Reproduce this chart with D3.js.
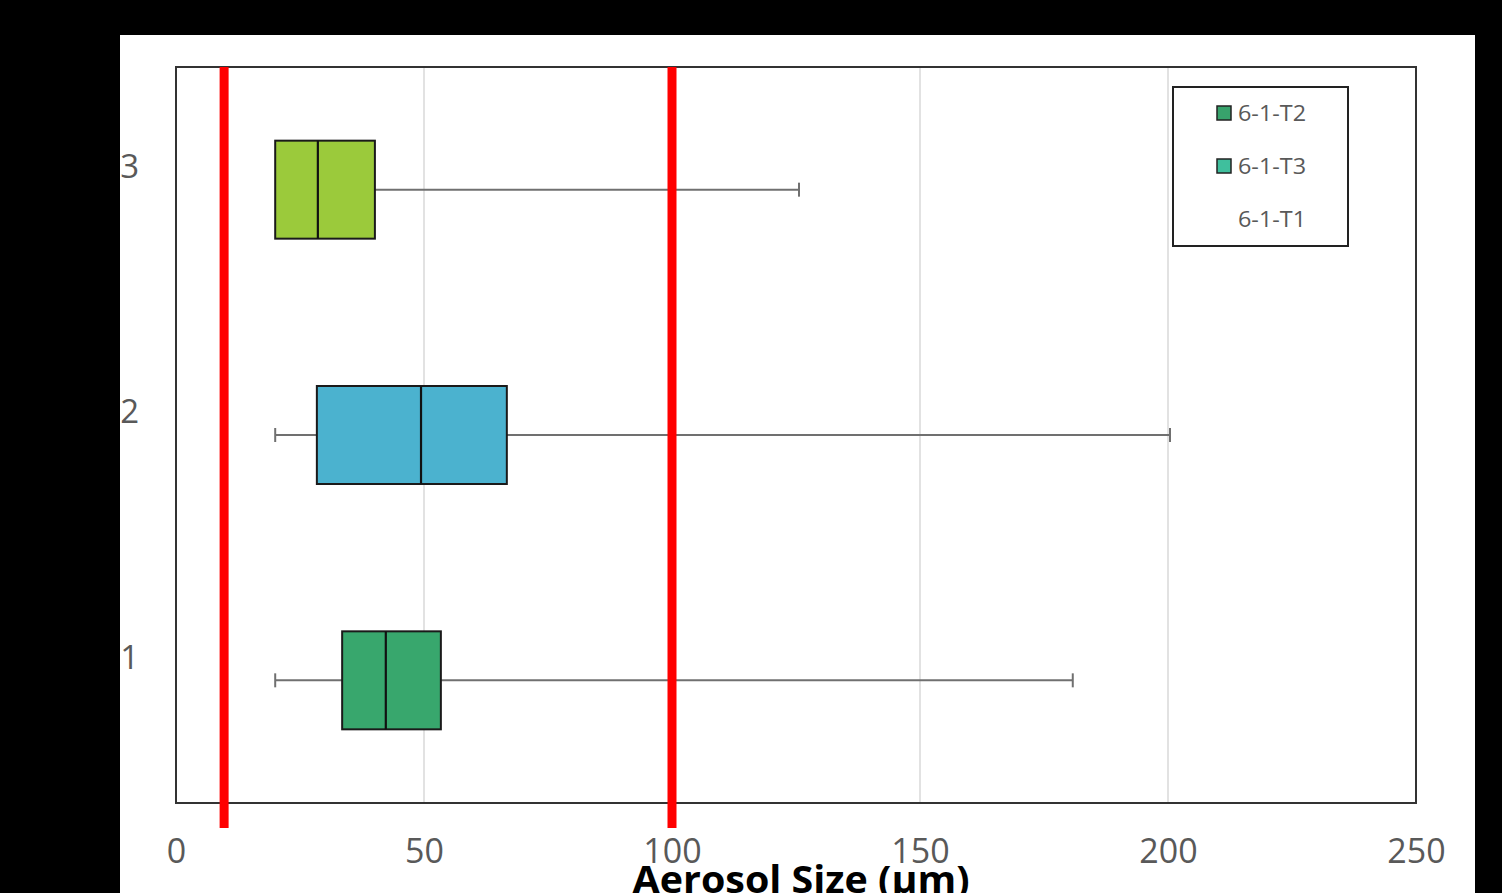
<!DOCTYPE html>
<html>
<head>
<meta charset="utf-8">
<script src="https://cdn.jsdelivr.net/npm/d3@7"></script>
<style>
  html, body { margin: 0; padding: 0; background: #000; }
  svg { display: block; }
</style>
</head>
<body>
<svg id="chart" width="1502" height="893"></svg>
<script>
// ---- data ----
const categories = ["1", "2", "3"];
const mins    = [20.0, 20.0, 20.0];
const q1s     = [33.5, 28.4, 20.0];
const medians = [42.3, 49.4, 28.6];
const q3s     = [53.4, 66.7, 40.1];
const maxs    = [180.8, 200.4, 125.6];
const boxColors = ["#38a76d", "#4bb2cf", "#9bca3b"];
const xTicks = [0, 50, 100, 150, 200, 250];
const refLines = [9.7, 100];
const legendLabels = ["6-1-T2", "6-1-T3", "6-1-T1"];
const legendColors = ["#38a36c", "#3fbf9d", null];
const xTitle = "Aerosol Size (μm)";

// ---- layout ----
const svg = d3.select("#chart");
const panel = {x: 120, y: 35, w: 1355, h: 858};
const plot = {l: 176, r: 1416, t: 67, b: 803};

svg.append("defs").append("clipPath").attr("id", "pclip")
  .append("rect").attr("x", panel.x).attr("y", panel.y).attr("width", panel.w).attr("height", panel.h);

const g = svg.append("g").attr("clip-path", "url(#pclip)");
g.append("rect").attr("x", panel.x).attr("y", panel.y).attr("width", panel.w).attr("height", panel.h).attr("fill", "#fff");

const x = d3.scaleLinear().domain([0, 250]).range([plot.l, plot.r]);
const y = d3.scalePoint().domain(["3", "2", "1"]).range([plot.t, plot.b]).padding(0.5);
const boxH = 98;

// gridlines
g.append("g").selectAll("line").data(xTicks.filter(d => d > 0 && d < 250)).join("line")
  .attr("x1", d => x(d)).attr("x2", d => x(d))
  .attr("y1", plot.t).attr("y2", plot.b)
  .attr("stroke", "#d9d9d9").attr("stroke-width", 1.5);

// x axis labels via d3 axis
const xAxis = d3.axisBottom(x).tickValues(xTicks).tickSize(0).tickPadding(0).tickFormat(d3.format("d"));
const xa = g.append("g").attr("transform", `translate(0,${plot.b + 36})`).call(xAxis);
xa.select(".domain").remove();
xa.selectAll("text").attr("fill", "#595959").attr("font-family", "Open Sans, sans-serif")
  .attr("font-size", 34).attr("dy", "0.72em").attr("y", 0);

// y labels
const yAxis = d3.axisLeft(y).tickSize(0).tickPadding(0);
const ya = g.append("g").attr("transform", `translate(139,-24)`).call(yAxis);
ya.select(".domain").remove();
ya.selectAll("text").attr("fill", "#595959").attr("font-family", "Open Sans, sans-serif")
  .attr("font-size", 33).attr("dy", "0.36em");

// boxes
const rows = categories.map((c, i) => ({c, min: mins[i], q1: q1s[i], med: medians[i], q3: q3s[i], max: maxs[i], color: boxColors[i]}));
const bg = g.append("g").selectAll("g").data(rows).join("g");
// whisker lines
bg.append("line").attr("x1", d => x(d.min)).attr("x2", d => x(d.q1))
  .attr("y1", d => y(d.c)).attr("y2", d => y(d.c)).attr("stroke", "#707070").attr("stroke-width", 2);
bg.append("line").attr("x1", d => x(d.q3)).attr("x2", d => x(d.max))
  .attr("y1", d => y(d.c)).attr("y2", d => y(d.c)).attr("stroke", "#707070").attr("stroke-width", 2);
// caps
bg.filter(d => d.min < d.q1).append("line").attr("x1", d => x(d.min)).attr("x2", d => x(d.min))
  .attr("y1", d => y(d.c) - 7).attr("y2", d => y(d.c) + 7).attr("stroke", "#707070").attr("stroke-width", 2);
bg.append("line").attr("x1", d => x(d.max)).attr("x2", d => x(d.max))
  .attr("y1", d => y(d.c) - 7).attr("y2", d => y(d.c) + 7).attr("stroke", "#707070").attr("stroke-width", 2);
// box
bg.append("rect").attr("x", d => x(d.q1)).attr("width", d => x(d.q3) - x(d.q1))
  .attr("y", d => y(d.c) - boxH / 2).attr("height", boxH)
  .attr("fill", d => d.color).attr("stroke", "#1a1a1a").attr("stroke-width", 2);
bg.append("line").attr("x1", d => x(d.med)).attr("x2", d => x(d.med))
  .attr("y1", d => y(d.c) - boxH / 2).attr("y2", d => y(d.c) + boxH / 2)
  .attr("stroke", "#111").attr("stroke-width", 2.2);

// plot border
g.append("rect").attr("x", plot.l).attr("y", plot.t).attr("width", plot.r - plot.l).attr("height", plot.b - plot.t)
  .attr("fill", "none").attr("stroke", "#333").attr("stroke-width", 2);

// reference red lines
g.append("g").selectAll("line").data(refLines).join("line")
  .attr("x1", d => x(d)).attr("x2", d => x(d))
  .attr("y1", plot.t).attr("y2", 828)
  .attr("stroke", "#ff0000").attr("stroke-width", 9);

// legend
const lg = g.append("g");
lg.append("rect").attr("x", 1173).attr("y", 87).attr("width", 175).attr("height", 159)
  .attr("fill", "#fff").attr("stroke", "#222").attr("stroke-width", 2);
const le = lg.selectAll("g.le").data(legendLabels.map((t, i) => ({t, c: legendColors[i], i}))).join("g")
  .attr("class", "le").attr("transform", d => `translate(0,${113 + d.i * 53})`);
le.filter(d => d.c).append("rect").attr("x", 1217).attr("y", -7).attr("width", 14).attr("height", 14)
  .attr("fill", d => d.c).attr("stroke", "#222").attr("stroke-width", 1.5);
le.append("text").attr("x", 1238).attr("y", 0).attr("dy", "0.36em")
  .attr("font-family", "Open Sans, sans-serif").attr("font-size", 21).attr("fill", "#595959")
  .attr("textLength", 68).attr("lengthAdjust", "spacingAndGlyphs")
  .text(d => d.t);

// x title
g.append("text").attr("x", 801).attr("y", 893).attr("text-anchor", "middle")
  .attr("font-family", "Open Sans, sans-serif").attr("font-weight", "bold").attr("font-size", 37)
  .attr("textLength", 337).attr("lengthAdjust", "spacingAndGlyphs")
  .attr("fill", "#000").text(xTitle);
</script>
</body>
</html>
